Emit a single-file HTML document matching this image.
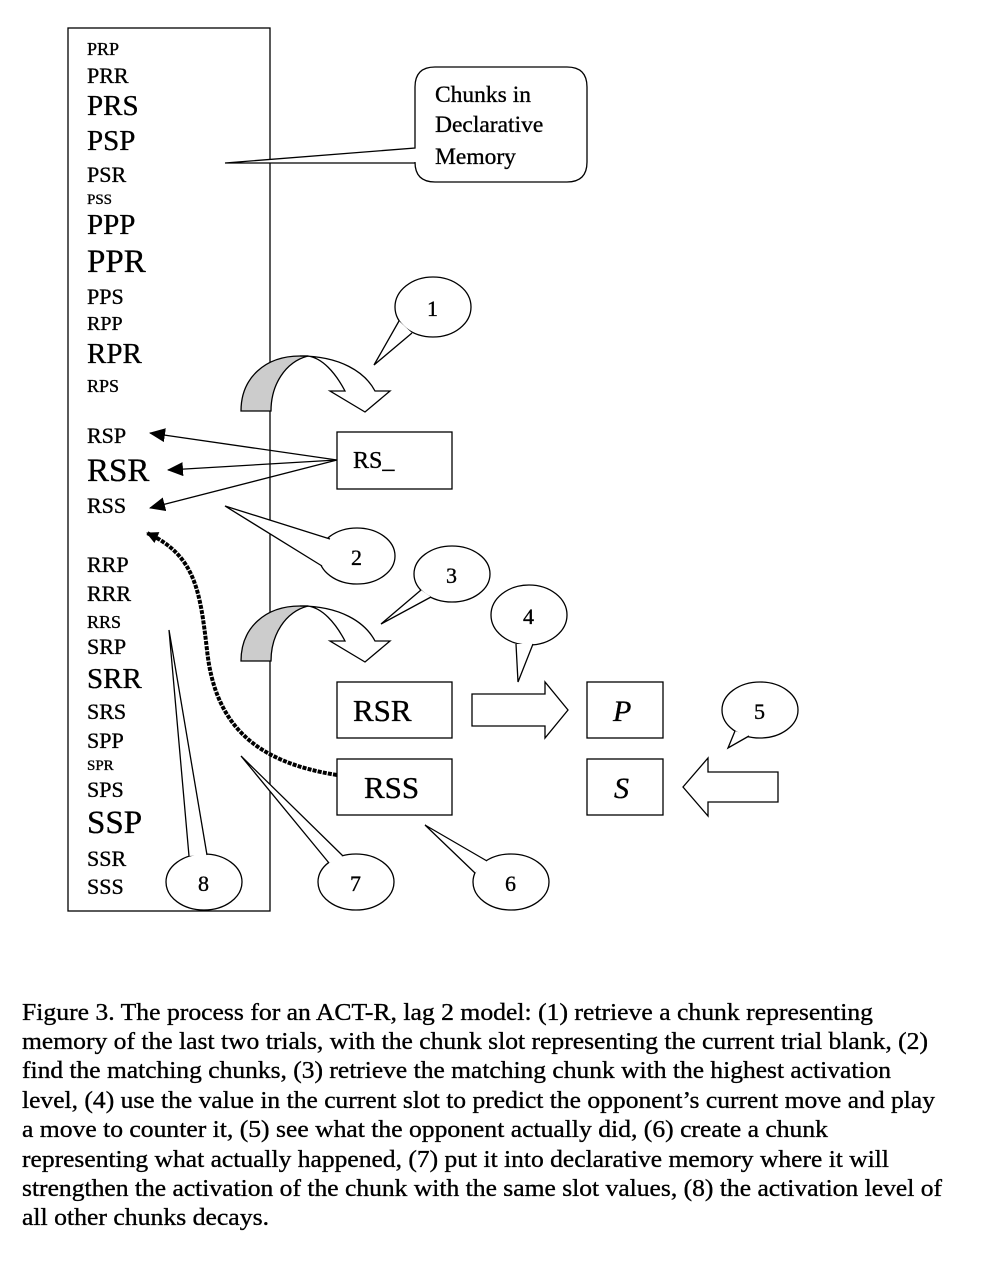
<!DOCTYPE html>
<html><head><meta charset="utf-8"><style>
html,body{margin:0;padding:0;background:#fff;}
svg{display:block;}
text{font-family:"Liberation Serif",serif;fill:#000;stroke:#000;stroke-width:0.35;}
</style></head><body>
<svg width="1001" height="1262" viewBox="0 0 1001 1262" xmlns="http://www.w3.org/2000/svg">
<defs>
<marker id="ah" markerWidth="12" markerHeight="12" refX="11" refY="6" orient="auto" markerUnits="userSpaceOnUse"><path d="M0,0 L12,6 L0,12 Z" fill="#000"/></marker>
<marker id="ah2" markerWidth="16" markerHeight="14" refX="15" refY="7" orient="auto" markerUnits="userSpaceOnUse"><path d="M0,0 L16,7 L0,14 Z" fill="#000"/></marker>
</defs>
<rect x="68" y="28" width="202" height="883" fill="none" stroke="#000" stroke-width="1.3"/>
<g>
<text x="87" y="55" font-size="18">PRP</text>
<text x="87" y="83" font-size="22">PRR</text>
<text x="87" y="115" font-size="29">PRS</text>
<text x="87" y="150" font-size="29">PSP</text>
<text x="87" y="182" font-size="22">PSR</text>
<text x="87" y="204" font-size="15">PSS</text>
<text x="87" y="234" font-size="29">PPP</text>
<text x="87" y="272" font-size="33">PPR</text>
<text x="87" y="304" font-size="22">PPS</text>
<text x="87" y="330" font-size="20">RPP</text>
<text x="87" y="363" font-size="29">RPR</text>
<text x="87" y="392" font-size="18">RPS</text>
<text x="87" y="443" font-size="22">RSP</text>
<text x="87" y="481" font-size="33">RSR</text>
<text x="87" y="513" font-size="22">RSS</text>
<text x="87" y="572" font-size="22">RRP</text>
<text x="87" y="601" font-size="22">RRR</text>
<text x="87" y="628" font-size="18">RRS</text>
<text x="87" y="654" font-size="22">SRP</text>
<text x="87" y="688" font-size="29">SRR</text>
<text x="87" y="719" font-size="22">SRS</text>
<text x="87" y="748" font-size="22">SPP</text>
<text x="87" y="770" font-size="15">SPR</text>
<text x="87" y="797" font-size="22">SPS</text>
<text x="87" y="833" font-size="33">SSP</text>
<text x="87" y="866" font-size="22">SSR</text>
<text x="87" y="894" font-size="22">SSS</text>
</g>
<!-- Chunks callout -->
<path d="M435,67 L567,67 Q587,67 587,87 L587,162 Q587,182 567,182 L435,182 Q415,182 415,162 L415,163 L225,163 L415,148 L415,87 Q415,67 435,67 Z" fill="#fff" stroke="#000" stroke-width="1.3"/>
<text x="435" y="102" font-size="23.5">Chunks in</text>
<text x="435" y="132" font-size="23.5">Declarative</text>
<text x="435" y="164" font-size="23.5">Memory</text>
<!-- curved arrow 1 -->
<path d="M241,411 C241,378 265,356 300,356 L308,356 C285,362 271,385 271,411 Z" fill="#ccc" stroke="#000" stroke-width="1.3"/>
<path d="M300,356 C340,356 365,372 375,391 L390,391 L365,412 L330,391 L345,391 C335,372 322,358 308,356 Z" fill="#fff" stroke="#000" stroke-width="1.3"/>
<!-- bubble 1 -->
<ellipse cx="433" cy="307" rx="38" ry="30" fill="#fff" stroke="#000" stroke-width="1.3"/>
<polygon points="399,321 374,365 412,333" fill="#fff"/>
<polyline points="399,321 374,365 412,333" fill="none" stroke="#000" stroke-width="1.3"/>
<text x="427" y="316" font-size="22">1</text>
<!-- RS_ box -->
<rect x="337" y="432" width="115" height="57" fill="#fff" stroke="#000" stroke-width="1.3"/>
<text x="353" y="468" font-size="24">RS_</text>
<line x1="337" y1="460" x2="150" y2="433" stroke="#000" stroke-width="1.3" marker-end="url(#ah2)"/>
<line x1="337" y1="460" x2="168" y2="470" stroke="#000" stroke-width="1.3" marker-end="url(#ah2)"/>
<line x1="337" y1="460" x2="150" y2="508" stroke="#000" stroke-width="1.3" marker-end="url(#ah2)"/>
<!-- bubble 2 -->
<ellipse cx="357" cy="556" rx="38" ry="28" fill="#fff" stroke="#000" stroke-width="1.3"/>
<polygon points="330,539 225,506 322,566" fill="#fff"/>
<polyline points="330,539 225,506 322,566" fill="none" stroke="#000" stroke-width="1.3"/>
<text x="351" y="565" font-size="22">2</text>
<!-- bubble 3 -->
<ellipse cx="452" cy="574" rx="38" ry="28" fill="#fff" stroke="#000" stroke-width="1.3"/>
<polygon points="421,590 381,624 431,597" fill="#fff"/>
<polyline points="421,590 381,624 431,597" fill="none" stroke="#000" stroke-width="1.3"/>
<text x="446" y="583" font-size="22">3</text>
<!-- curved arrow 3 -->
<path d="M241,661 C241,628 265,606 300,606 L308,606 C285,612 271,635 271,661 Z" fill="#ccc" stroke="#000" stroke-width="1.3"/>
<path d="M300,606 C340,606 365,622 375,641 L390,641 L365,662 L330,641 L345,641 C335,622 322,608 308,606 Z" fill="#fff" stroke="#000" stroke-width="1.3"/>
<!-- bubble 4 -->
<ellipse cx="529" cy="615" rx="38" ry="30" fill="#fff" stroke="#000" stroke-width="1.3"/>
<polygon points="516,644 518,682 533,644" fill="#fff"/>
<polyline points="516,644 518,682 533,644" fill="none" stroke="#000" stroke-width="1.3"/>
<text x="523" y="624" font-size="22">4</text>
<!-- RSR / RSS boxes -->
<rect x="337" y="682" width="115" height="56" fill="#fff" stroke="#000" stroke-width="1.3"/>
<text x="353" y="721" font-size="31">RSR</text>
<rect x="337" y="759" width="115" height="56" fill="#fff" stroke="#000" stroke-width="1.3"/>
<text x="364" y="798" font-size="31">RSS</text>
<!-- block arrow right -->
<path d="M472,694 L545,694 L545,682 L568,710 L545,738 L545,726 L472,726 Z" fill="#fff" stroke="#000" stroke-width="1.3"/>
<rect x="587" y="682" width="76" height="56" fill="#fff" stroke="#000" stroke-width="1.3"/>
<text x="613" y="721" font-size="30" font-style="italic">P</text>
<rect x="587" y="759" width="76" height="56" fill="#fff" stroke="#000" stroke-width="1.3"/>
<text x="614" y="798" font-size="30" font-style="italic">S</text>
<!-- block arrow left -->
<path d="M778,772 L708,772 L708,758 L683,787 L708,816 L708,802 L778,802 Z" fill="#fff" stroke="#000" stroke-width="1.3"/>
<!-- bubble 5 -->
<ellipse cx="760" cy="710" rx="38" ry="28" fill="#fff" stroke="#000" stroke-width="1.3"/>
<polygon points="735,731 728,748 749,736" fill="#fff"/>
<polyline points="735,731 728,748 749,736" fill="none" stroke="#000" stroke-width="1.3"/>
<text x="754" y="719" font-size="22">5</text>
<!-- bubble 6 -->
<ellipse cx="511" cy="882" rx="38" ry="28" fill="#fff" stroke="#000" stroke-width="1.3"/>
<polygon points="487,861 425,825 475,873" fill="#fff"/>
<polyline points="487,861 425,825 475,873" fill="none" stroke="#000" stroke-width="1.3"/>
<text x="505" y="891" font-size="22">6</text>
<!-- bubble 7 -->
<ellipse cx="356" cy="882" rx="38" ry="28" fill="#fff" stroke="#000" stroke-width="1.3"/>
<polygon points="343,856 241,756 329,863" fill="#fff"/>
<polyline points="343,856 241,756 329,863" fill="none" stroke="#000" stroke-width="1.3"/>
<text x="350" y="891" font-size="22">7</text>
<!-- bubble 8 -->
<ellipse cx="204" cy="882" rx="38" ry="28" fill="#fff" stroke="#000" stroke-width="1.3"/>
<polygon points="189,856 169,630 207,855" fill="#fff"/>
<polyline points="189,856 169,630 207,855" fill="none" stroke="#000" stroke-width="1.3"/>
<text x="198" y="891" font-size="22">8</text>
<!-- dotted curve -->
<path d="M337,775 C255,762 215,725 207,650 C200,590 195,555 147,533" fill="none" stroke="#000" stroke-width="4" stroke-dasharray="4,1.2" marker-end="url(#ah)"/>
<!-- caption -->
<g font-size="24">
<text x="22" y="1020" textLength="851" lengthAdjust="spacingAndGlyphs">Figure 3. The process for an ACT-R, lag 2 model: (1) retrieve a chunk representing</text>
<text x="22" y="1049" textLength="906" lengthAdjust="spacingAndGlyphs">memory of the last two trials, with the chunk slot representing the current trial blank, (2)</text>
<text x="22" y="1078" textLength="869" lengthAdjust="spacingAndGlyphs">find the matching chunks, (3) retrieve the matching chunk with the highest activation</text>
<text x="22" y="1108" textLength="913" lengthAdjust="spacingAndGlyphs">level, (4) use the value in the current slot to predict the opponent’s current move and play</text>
<text x="22" y="1137" textLength="806" lengthAdjust="spacingAndGlyphs">a move to counter it, (5) see what the opponent actually did, (6) create a chunk</text>
<text x="22" y="1167" textLength="867" lengthAdjust="spacingAndGlyphs">representing what actually happened, (7) put it into declarative memory where it will</text>
<text x="22" y="1196" textLength="920" lengthAdjust="spacingAndGlyphs">strengthen the activation of the chunk with the same slot values, (8) the activation level of</text>
<text x="22" y="1225" textLength="247" lengthAdjust="spacingAndGlyphs">all other chunks decays.</text>
</g>
</svg>
</body></html>
